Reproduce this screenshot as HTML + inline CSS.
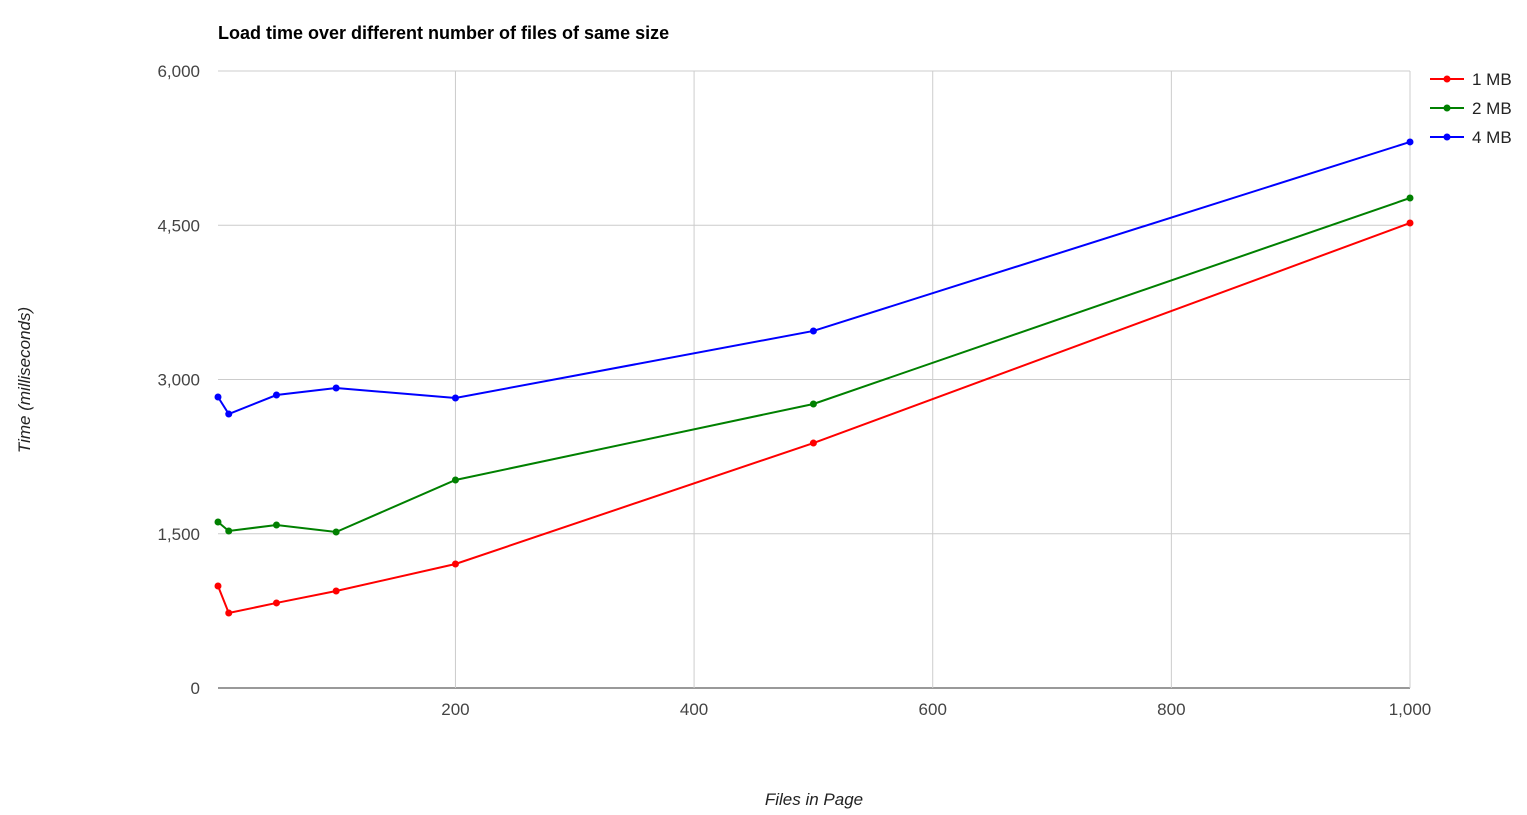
<!DOCTYPE html>
<html><head><meta charset="utf-8"><style>
body{margin:0;background:#fff;}
svg{display:block;font-family:"Liberation Sans",Arial,sans-serif;}
</style></head><body>
<svg id="chart" width="1527" height="815">
<text x="218" y="39" font-size="18" font-weight="bold" fill="#000">Load time over different number of files of same size</text>
<g id="grid"></g><g id="series"></g>
<text x="814" y="805" font-size="17" font-style="italic" text-anchor="middle" fill="#222">Files in Page</text>
<text transform="translate(30,380) rotate(-90)" font-size="17" font-style="italic" text-anchor="middle" fill="#222">Time (milliseconds)</text>
<g id="legend"></g>
</svg>
<script>
const xs=[1,10,50,100,200,500,1000];
const seriesNames=["1 MB","2 MB","4 MB"];
const red=[992,729,827,943,1206,2382,4522];
const green=[1614,1527,1585,1517,2023,2762,4765];
const blue=[2830,2664,2849,2917,2820,3472,5310];
const xTicks=[200,400,600,800,1000];
const xTickLabels=["200","400","600","800","1,000"];
const yTicks=[0,1500,3000,4500,6000];
const yTickLabels=["0","1,500","3,000","4,500","6,000"];
const colors=["#ff0000","#008000","#0000ff"];
const NS="http://www.w3.org/2000/svg";
const X=v=>218+(v-1)*(1410-218)/999;
const Y=v=>688-v*617/6000;
function mk(t,a,p){const e=document.createElementNS(NS,t);for(const k in a)e.setAttribute(k,a[k]);p.appendChild(e);return e;}
const grid=document.getElementById('grid');
yTicks.forEach((t,i)=>{
 const l=mk('line',{x1:218,x2:1410,y1:Y(t),y2:Y(t),stroke:t===0?'#333':'#ccc','stroke-width':1},grid);
 
 
 const tx=mk('text',{x:200,y:Y(t)+6,'font-size':17,'text-anchor':'end',fill:'#444'},grid);tx.textContent=yTickLabels[i];
 
 
});
xTicks.forEach((t,i)=>{
 const l=mk('line',{x1:X(t),x2:X(t),y1:71,y2:688,stroke:'#ccc','stroke-width':1},grid);
 
 
 const tx=mk('text',{x:X(t),y:715,'font-size':17,'text-anchor':'middle',fill:'#444'},grid);tx.textContent=xTickLabels[i];
 
 
});
const sg=document.getElementById('series');
[red,green,blue].forEach((d,s)=>{
 const pl=mk('polyline',{points:d.map((v,i)=>X(xs[i])+','+Y(v)).join(' '),fill:'none',stroke:colors[s],'stroke-width':2},sg);
 
 
 d.forEach((v,i)=>{const c=mk('circle',{cx:X(xs[i]),cy:Y(v),r:3.5,fill:colors[s]},sg);
  
  });
});
const lg=document.getElementById('legend');
seriesNames.forEach((n,s)=>{
 const y=79+s*29;
 const g=mk('g',{},lg);
 
 
 mk('line',{x1:1430,x2:1464,y1:y,y2:y,stroke:colors[s],'stroke-width':2},g);
 mk('circle',{cx:1447,cy:y,r:3.5,fill:colors[s]},g);
 const t=mk('text',{x:1472,y:y+6,'font-size':17,fill:'#222'},g);t.textContent=n;
});
</script>
</body></html>
